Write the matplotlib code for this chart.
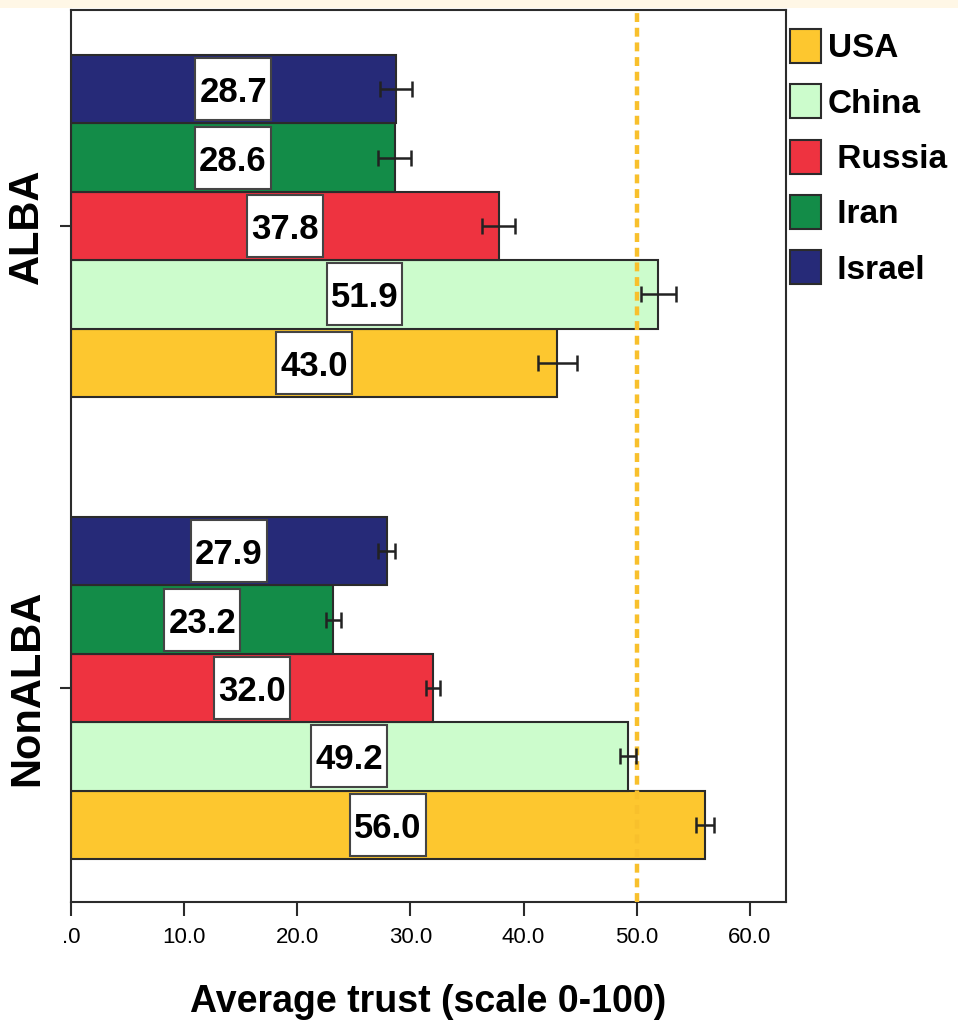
import matplotlib
matplotlib.use("Agg")
import matplotlib.pyplot as plt
import numpy as np
from matplotlib.patches import Patch, Rectangle

# data
groups = ["ALBA", "NonALBA"]
countries = ["USA", "China", "Russia", "Iran", "Israel"]
means = {
    "ALBA":    [43.0, 51.9, 37.8, 28.6, 28.7],
    "NonALBA": [56.0, 49.2, 32.0, 23.2, 27.9],
}
errs = {
    "ALBA":    [1.7, 1.55, 1.45, 1.45, 1.4],
    "NonALBA": [0.8, 0.7, 0.65, 0.7, 0.75],
}
colors = ["#FDC72F", "#CCFCCC", "#EE3340", "#138C48", "#262A78"]
legend_labels = ["USA", "China", " Russia", " Iran", " Israel"]
ref_line = 50.0
xticks = [0, 10, 20, 30, 40, 50, 60]
xticklabels = [".0", "10.0", "20.0", "30.0", "40.0", "50.0", "60.0"]

FONT = ["Liberation Sans", "DejaVu Sans"]
EDGE = "#2b2b2b"

fig = plt.figure(figsize=(9.58, 10.26), dpi=100)
fig.patches.append(Rectangle((0, 0.992), 1, 0.008, transform=fig.transFigure,
                             facecolor="#FFF7E6", edgecolor="none"))
ax = fig.add_axes([0.0741, 0.1209, 0.7464, 0.8694])

h = 0.148
box_w, box_h = 6.7, 0.134   # white value boxes, in data units
centers = {"ALBA": 1.0, "NonALBA": 0.0}
for g in groups:
    for i, (c, v, e) in enumerate(zip(colors, means[g], errs[g])):
        y = centers[g] + (i - 2) * h
        ax.barh(y, v, height=h, color=c, edgecolor=EDGE, lw=1.5, zorder=2)
        ax.errorbar(v, y, xerr=e, fmt="none", ecolor="#222222", elinewidth=1.8,
                    capsize=5.5, capthick=1.8, zorder=5)
        ax.add_patch(Rectangle((v / 2 - box_w / 2, y - box_h / 2), box_w, box_h,
                               facecolor="white", edgecolor="#444444", lw=1.5,
                               zorder=6))
        ax.text(v / 2, y, f"{v:.1f}", ha="center", va="center_baseline",
                fontsize=25, fontweight="bold", family=FONT, zorder=7)

ax.axvline(ref_line, color="#F8C02C", lw=3.2, ls=(0, (2.0, 1.3)), zorder=3)

ax.set_xlim(0, 63.2)
ax.set_ylim(-0.463, 1.4675)
ax.set_xticks(xticks)
ax.set_xticklabels(xticklabels, family=FONT, fontsize=16)
ax.set_yticks([centers[g] for g in groups])
ax.set_yticklabels(groups, rotation=90, va="center", fontsize=30,
                   fontweight="bold", family=FONT)
ax.tick_params(axis="x", length=10, width=1.5, color=EDGE, pad=8)
ax.tick_params(axis="y", length=8, width=1.5, color=EDGE, pad=9)
for s in ax.spines.values():
    s.set_color(EDGE)
    s.set_linewidth(1.5)

ax.set_xlabel("Average trust (scale 0-100)", fontsize=27, fontweight="bold",
              family=FONT, labelpad=26)

handles = [Patch(facecolor=c, edgecolor=EDGE, lw=1.5) for c in colors]
ax.legend(handles, legend_labels, loc="upper left",
          bbox_to_anchor=(0.9916, 0.99),
          frameon=False, prop=dict(family=FONT, size=24, weight="bold"),
          handlelength=0.93, handleheight=1.2, handletextpad=0.2,
          labelspacing=0.6, borderaxespad=0.0, borderpad=0.3)

fig.savefig("out.png")
